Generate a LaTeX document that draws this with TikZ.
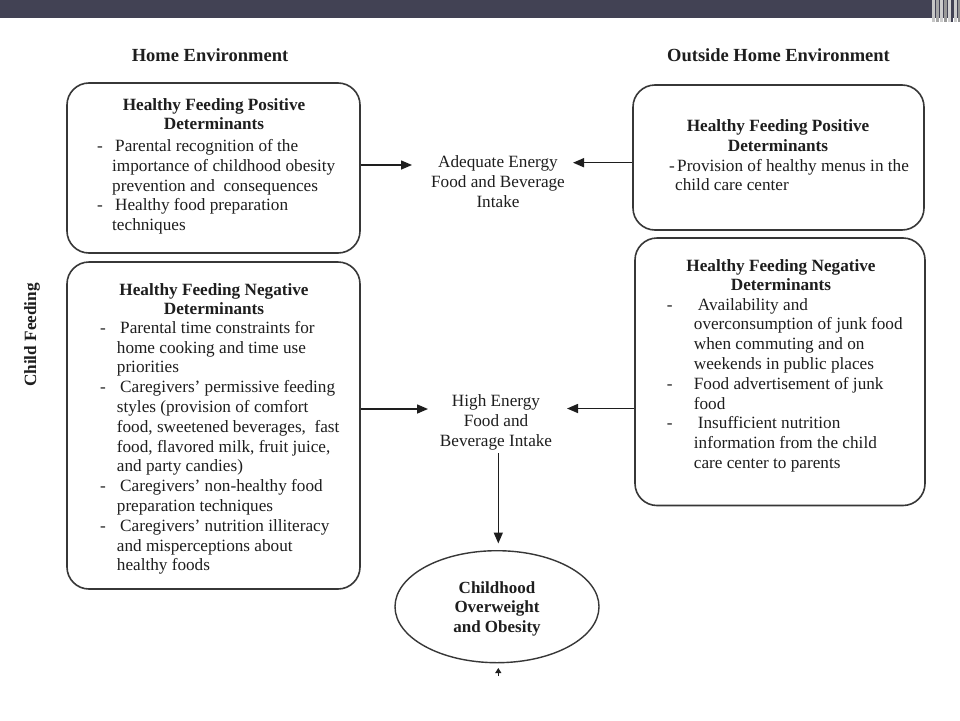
\documentclass[tikz,border=0pt]{standalone}
\usepackage{fontspec}
\setmainfont{Liberation Serif}
\usetikzlibrary{arrows.meta,shapes.geometric}
\definecolor{banner}{RGB}{66,66,84}
\definecolor{ink}{RGB}{30,30,30}
\definecolor{edge}{RGB}{55,55,55}
\begin{document}
\begin{tikzpicture}[x=1pt,y=-1pt,
  boxstyle/.style={draw=edge,line width=1.6pt,rounded corners=22pt,inner sep=0pt},
  txt/.style={inner sep=0pt,text=ink,font=\fontsize{17.2}{19.8}\selectfont,anchor=base},
  bodytxt/.style={txt,anchor=base west},
  headtxt/.style={txt,font=\fontsize{17.2}{19.8}\selectfont\bfseries},
  titletxt/.style={txt,font=\fontsize{18.5}{22}\selectfont\bfseries},
  arr/.style={draw=ink,line width=1.5pt,-{Triangle[length=11pt,width=9pt]}}]
\useasboundingbox (0,0) rectangle (960,720);
\fill[white] (0,0) rectangle (960,720);
% banner
\fill[banner] (0,0) rectangle (960,18);
\fill[gray!45] (932,0) rectangle (935,22);
\fill[gray!70] (936,0) rectangle (939,22);
\fill[gray!40] (940,0) rectangle (943,22);
\fill[gray!80] (943.5,0) rectangle (947,22);
\fill[gray!35] (948,0) rectangle (950.5,22);
\fill[banner] (951,0) rectangle (953,22);
\fill[gray!40] (953.5,0) rectangle (957,22);
\fill[gray!85] (957.5,0) rectangle (960,22);
% titles
\node[titletxt] (t1) at (210,61) {Home Environment};
\node[titletxt] (t2) at (778.5,61) {Outside Home Environment};
\node[headtxt,rotate=90] (cf) at (36,335) {Child Feeding};
% boxes
\node[boxstyle,minimum width=293pt,minimum height=170pt] (b1) at (213.5,168) {};
\node[boxstyle,minimum width=291pt,minimum height=145pt] (b2) at (778.5,157.5) {};
\node[boxstyle,minimum width=293pt,minimum height=327pt] (b3) at (213.5,425.5) {};
\node[boxstyle,minimum width=290pt,minimum height=267.5pt] (b4) at (780,371.75) {};
% box 1 text
\node[headtxt] (h1) at (214,110) {\begin{tabular}[t]{@{}c@{}}Healthy Feeding Positive\\Determinants\end{tabular}};
\node[bodytxt] (x1) at (97,151.5) {\begin{tabular}[t]{@{}p{15pt}@{}l@{}}
-&\hspace{3pt}Parental recognition of the\\
&importance of childhood obesity\\
&prevention and\ \ consequences\\
-&\hspace{3pt}Healthy food preparation\\
&techniques\end{tabular}};
% box 2 text
\node[headtxt] (h2) at (778,131.7) {\begin{tabular}[t]{@{}c@{}}Healthy Feeding Positive\\Determinants\end{tabular}};
\node[bodytxt] (x2) at (669,171) {\begin{tabular}[t]{@{}p{6pt}@{}l@{}}
-&\hspace{2pt}Provision of healthy menus in the\\
&child care center\end{tabular}};
% box 3 text
\node[headtxt] (h3) at (214,295) {\begin{tabular}[t]{@{}c@{}}Healthy Feeding Negative\\Determinants\end{tabular}};
\node[bodytxt] (x3) at (100,333.3) {\begin{tabular}[t]{@{}p{16.7pt}@{}l@{}}
-&\hspace{3.3pt}Parental time constraints for\\
&home cooking and time use\\
&priorities\\
-&\hspace{3.3pt}Caregivers’ permissive feeding\\
&styles (provision of comfort\\
&food, sweetened beverages,\ \ fast\\
&food, flavored milk, fruit juice,\\
&and party candies)\\
-&\hspace{3.3pt}Caregivers’ non-healthy food\\
&preparation techniques\\
-&\hspace{3.3pt}Caregivers’ nutrition illiteracy\\
&and misperceptions about\\
&healthy foods\end{tabular}};
% box 4 text
\node[headtxt] (h4) at (781,271) {\begin{tabular}[t]{@{}c@{}}Healthy Feeding Negative\\Determinants\end{tabular}};
\node[bodytxt] (x4) at (666.7,310) {\begin{tabular}[t]{@{}p{27pt}@{}l@{}}
-&\hspace{4pt}Availability and\\
&overconsumption of junk food\\
&when commuting and on\\
&weekends in public places\\
-&Food advertisement of junk\\
&food\\
-&\hspace{4pt}Insufficient nutrition\\
&information from the child\\
&care center to parents\end{tabular}};
% middle texts
\node[txt] (adq) at (498,167.5) {\begin{tabular}[t]{@{}c@{}}Adequate Energy\\Food and Beverage\\Intake\end{tabular}};
\node[txt] (hi) at (496,406.7) {\begin{tabular}[t]{@{}c@{}}High Energy\\Food and\\Beverage Intake\end{tabular}};
% ellipse
\node[draw=edge,line width=1.4pt,ellipse,inner sep=0pt,minimum width=204pt,minimum height=112pt,
  font=\fontsize{17}{19.7}\selectfont\bfseries,text=ink] (ell) at (497,606.7) {};
\node[headtxt,font=\fontsize{17}{19.7}\selectfont\bfseries] (ellt) at (497,593) {\begin{tabular}[t]{@{}c@{}}Childhood\\Overweight\\and Obesity\end{tabular}};
% arrow end coordinates
\coordinate (a1) at (412,165);
\coordinate (a2) at (573,162.7);
\coordinate (a3) at (428,409);
\coordinate (a4) at (567,408.5);
\coordinate (dn) at (498.3,453);
\coordinate (dnE) at (498.3,543.5);
\coordinate (bot) at (498.3,676);
\coordinate (botE) at (498.3,668);
% connectors
\draw[arr] (b1.east |- a1) -- (a1);
\draw[arr] (b2.west |- a2) -- (a2);
\draw[arr] (b3.east |- a3) -- (a3);
\draw[arr] (b4.west |- a4) -- (a4);
\draw[arr] (dn) -- (dnE);
\draw[draw=ink,line width=1pt,-{Triangle[length=5pt,width=6pt]}] (bot) -- (botE);
\end{tikzpicture}
\end{document}
